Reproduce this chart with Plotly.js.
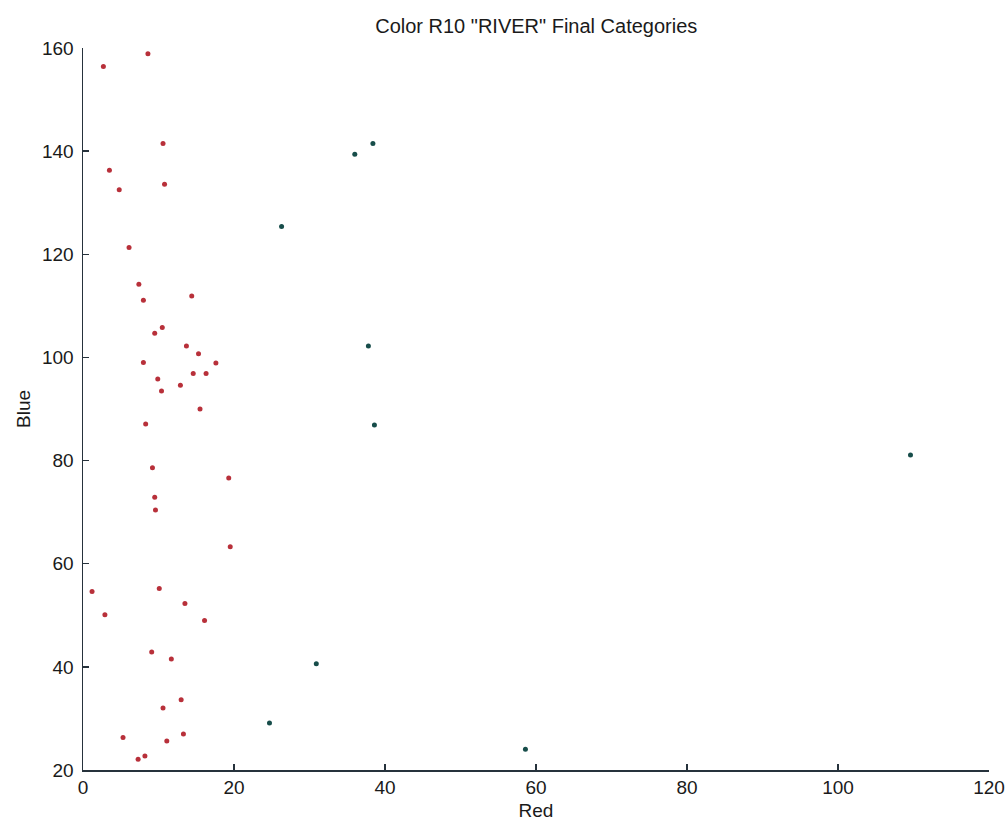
<!DOCTYPE html>
<html>
<head>
<meta charset="utf-8">
<script src="https://cdn.plot.ly/plotly-3.0.1.min.js"></script>
<style>html,body{margin:0;padding:0;background:#fff;}#chart{width:1008px;height:821px;}</style>
</head>
<body>
<div id="chart"></div>
<script>
// Red category (category 1)
const redX = [8.6, 2.7, 10.6, 3.5, 4.8, 10.8, 6.1, 7.4, 8.0, 14.4, 10.5, 9.5, 13.7, 15.3, 8.0, 17.6, 14.6, 16.3, 9.9, 12.9, 10.4, 15.5, 8.3, 9.2, 19.3, 9.5, 9.6, 19.5, 1.2, 10.1, 2.9, 13.5, 16.1, 9.1, 11.7, 13.0, 10.6, 5.3, 13.3, 11.1, 7.3, 8.2];
const redY = [158.9, 156.4, 141.5, 136.3, 132.5, 133.6, 121.3, 114.2, 111.1, 111.9, 105.8, 104.7, 102.2, 100.7, 99.0, 98.9, 96.9, 96.9, 95.8, 94.6, 93.5, 90.0, 87.1, 78.6, 76.6, 72.9, 70.4, 63.3, 54.6, 55.2, 50.1, 52.3, 49.0, 42.9, 41.5, 33.6, 32.0, 26.3, 27.0, 25.6, 22.1, 22.7];
// Green category (category 2)
const greenX = [38.4, 36.0, 26.3, 37.8, 38.6, 30.9, 24.7, 58.6, 109.6];
const greenY = [141.5, 139.4, 125.4, 102.2, 86.9, 40.6, 29.1, 24.0, 81.1];
const xTicks = [0, 20, 40, 60, 80, 100, 120];
const yTicks = [20, 40, 60, 80, 100, 120, 140, 160];

const font = {family: 'Liberation Sans, Arial, sans-serif', color: '#1a1a1a'};
const axisColor = '#26323c';

const traces = [
  {x: redX, y: redY, mode: 'markers', type: 'scatter', name: 'Cat 1',
   marker: {color: '#b8303a', size: 5}},
  {x: greenX, y: greenY, mode: 'markers', type: 'scatter', name: 'Cat 2',
   marker: {color: '#174d4a', size: 5}}
];

const layout = {
  width: 1008, height: 821,
  margin: {l: 83, r: 19, t: 48, b: 51},
  paper_bgcolor: '#fff', plot_bgcolor: '#fff',
  showlegend: false,
  font: Object.assign({size: 19}, font),
  title: {text: 'Color R10 "RIVER" Final Categories', x: 0.532, xanchor: 'center', y: 0.968, yanchor: 'middle',
          font: Object.assign({size: 20}, font)},
  xaxis: {
    range: [0, 120], tickvals: xTicks, ticktext: xTicks.map(String),
    showgrid: false, zeroline: false, showline: true, linecolor: axisColor, linewidth: 1.5,
    ticks: 'inside', ticklen: 6, tickwidth: 1.5, tickcolor: axisColor,
    tickfont: Object.assign({size: 19}, font),
    title: {text: 'Red', font: Object.assign({size: 19}, font), standoff: 6}
  },
  yaxis: {
    range: [20, 160], tickvals: yTicks, ticktext: yTicks.map(String),
    showgrid: false, zeroline: false, showline: true, linecolor: axisColor, linewidth: 1.5,
    ticks: 'inside', ticklen: 6, tickwidth: 1.5, tickcolor: axisColor,
    ticklabelstandoff: 4,
    tickfont: Object.assign({size: 19}, font),
    title: {text: 'Blue', font: Object.assign({size: 19}, font), standoff: 6}
  }
};

Plotly.newPlot('chart', traces, layout, {displayModeBar: false, staticPlot: true});
</script>
</body>
</html>
